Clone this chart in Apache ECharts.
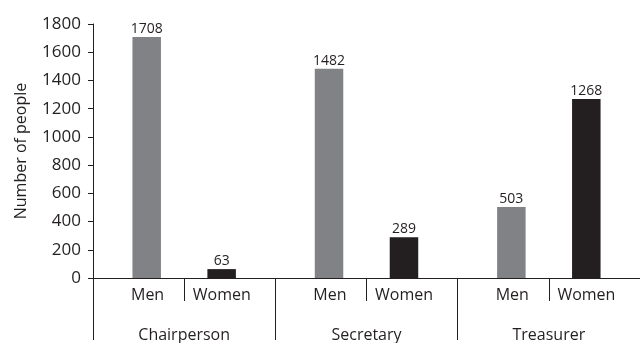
<!DOCTYPE html>
<html>
<head>
<meta charset="utf-8">
<script src="https://cdn.jsdelivr.net/npm/echarts@6/dist/echarts.min.js"></script>
<style>
html,body{margin:0;padding:0;background:#fff;}
#c{width:640px;height:343px;}
</style>
</head>
<body>
<div id="c"></div>
<script>
var groups = ['Chairperson', 'Secretary', 'Treasurer'];
var subLabels = ['Men', 'Women', 'Men', 'Women', 'Men', 'Women'];
var menValues = [1708, 1482, 503];
var womenValues = [63, 289, 1268];
var yTicks = [0, 200, 400, 600, 800, 1000, 1200, 1400, 1600, 1800];

var ink = '#231f20';
var font = 'Open Sans';
var chart = echarts.init(document.getElementById('c'), null, {renderer: 'canvas'});
chart.setOption({
  animation: false,
  grid: {left: 93, top: 24, height: 260, width: 550, containLabel: false},
  xAxis: [
    {
      type: 'category', data: subLabels, position: 'bottom',
      axisLine: {show: true, lineStyle: {color: ink, width: 1}},
      axisTick: {show: true, interval: 0, length: 23, lineStyle: {color: ink, width: 1}},
      axisLabel: {
        interval: 0, margin: 9, color: ink, fontFamily: font, fontSize: 16,
        formatter: function (v, i) { return (i % 2 === 0 ? '{m|' : '{w|') + v + '}'; },
        rich: {
          m: {padding: [0, 0, 0, 18], fontFamily: font, fontSize: 16, color: ink},
          w: {padding: [0, 16, 0, 0], fontFamily: font, fontSize: 16, color: ink}
        }
      }
    },
    {
      type: 'category', data: groups, position: 'bottom',
      axisLine: {show: false},
      axisTick: {show: true, interval: 0, length: 62, lineStyle: {color: ink, width: 1}},
      axisLabel: {interval: 0, margin: 49, color: ink, fontFamily: font, fontSize: 16}
    }
  ],
  yAxis: {
    type: 'value', min: yTicks[0], max: yTicks[yTicks.length - 1], interval: 200,
    name: 'Number of people', nameLocation: 'middle', nameGap: 64,
    nameTextStyle: {color: ink, fontFamily: font, fontSize: 16},
    axisLine: {show: true, lineStyle: {color: ink, width: 1}},
    axisTick: {show: true, length: 5, lineStyle: {color: ink}},
    axisLabel: {margin: 12, color: ink, fontFamily: font, fontSize: 17,
      formatter: function (v) { return String(v); }},
    splitLine: {show: false}
  },
  series: [
    {
      name: 'Men', type: 'bar', xAxisIndex: 1, data: menValues,
      barWidth: 28.5, barGap: '163%',
      itemStyle: {color: '#818285'},
      label: {show: true, position: 'top', distance: 1, color: ink, fontFamily: font, fontSize: 14}
    },
    {
      name: 'Women', type: 'bar', xAxisIndex: 1, data: womenValues,
      barWidth: 28.5, barGap: '163%',
      itemStyle: {color: ink},
      label: {show: true, position: 'top', distance: 1, color: ink, fontFamily: font, fontSize: 14}
    }
  ]
});
</script>
</body>
</html>
